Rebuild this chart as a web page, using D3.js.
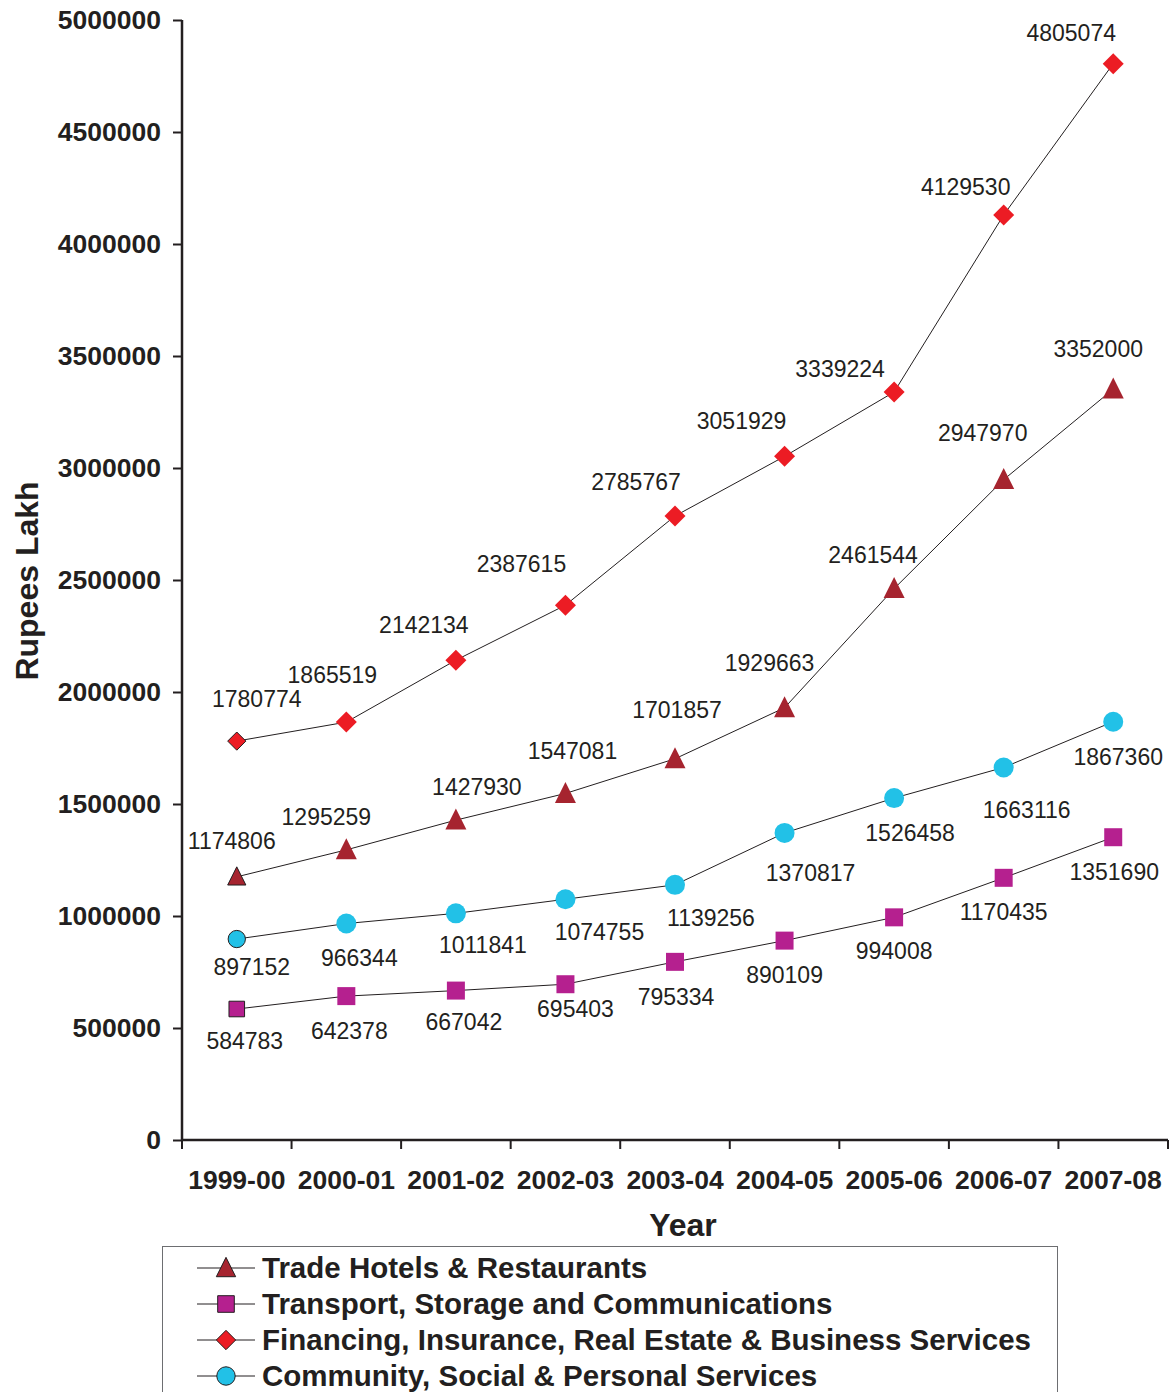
<!DOCTYPE html>
<html>
<head>
<meta charset="utf-8">
<script src="https://cdn.jsdelivr.net/npm/d3@7"></script>
<style>
  body { margin: 0; background: #fff; }
  text { font-family: "Liberation Sans", Arial, sans-serif; fill: #231f20; }
</style>
</head>
<body>
<svg id="chart"></svg>
<script>
var years = ["1999-00", "2000-01", "2001-02", "2002-03", "2003-04", "2004-05", "2005-06", "2006-07", "2007-08"];
var yTicks = [0, 500000, 1000000, 1500000, 2000000, 2500000, 3000000, 3500000, 4000000, 4500000, 5000000];

var trade = [1174806, 1295259, 1427930, 1547081, 1701857, 1929663, 2461544, 2947970, 3352000];
var transport = [584783, 642378, 667042, 695403, 795334, 890109, 994008, 1170435, 1351690];
var financing = [1780774, 1865519, 2142134, 2387615, 2785767, 3051929, 3339224, 4129530, 4805074];
var community = [897152, 966344, 1011841, 1074755, 1139256, 1370817, 1526458, 1663116, 1867360];

var seriesNames = ["Trade Hotels & Restaurants", "Transport, Storage and Communications",
    "Financing, Insurance, Real Estate & Business Services", "Community, Social & Personal Services"];

var W = 1173, H = 1392;
var margin = { top: 20, right: 5, bottom: 252, left: 182 },
    height = H - margin.top - margin.bottom;

var svg = d3.select("#chart").attr("width", W).attr("height", H);
var g = svg.append("g").attr("transform", "translate(" + margin.left + "," + margin.top + ")");

var x = d3.scaleBand().domain(years).range([0, 986]).padding(0);
var y = d3.scaleLinear().domain([0, 5000000]).range([height, 0]);

// custom marker shapes
var triangle = {
    draw: function (ctx, size) {
        var h = Math.sqrt(size), w = h;
        ctx.moveTo(0, -h * 0.55);
        ctx.lineTo(w / 2, h * 0.45);
        ctx.lineTo(-w / 2, h * 0.45);
        ctx.closePath();
    }
};
var diamond = {
    draw: function (ctx, size) {
        var r = Math.sqrt(size) / 2;
        ctx.moveTo(0, -r);
        ctx.lineTo(r, 0);
        ctx.lineTo(0, r);
        ctx.lineTo(-r, 0);
        ctx.closePath();
    }
};

// series styles; label offsets (dx, dy) per point as placed in the original
var series = [
    { name: seriesNames[0], values: trade, color: "#a6242f", shape: triangle, size: 441,
      ldx: [-5, -20, 21, 7, 2, -15, -21, -21, -15], ldy: [-36, -33, -33, -43, -49, -45, -34, -47, -40] },
    { name: seriesNames[1], values: transport, color: "#b5208f", shape: d3.symbolSquare, size: 324,
      ldx: [8, 3, 8, 10, 1, 0, 0, 0, 1], ldy: [32, 35, 31, 25, 35, 34, 34, 34, 35] },
    { name: seriesNames[2], values: financing, color: "#ec1c24", shape: diamond, size: 441,
      ldx: [20, -14, -32, -44, -39, -43, -54, -38, -42], ldy: [-42, -47, -35, -41, -34, -35, -23, -28, -31] },
    { name: seriesNames[3], values: community, color: "#22c1e7", shape: d3.symbolCircle, size: 314,
      ldx: [15, 13, 27, 34, 36, 26, 16, 23, 5], ldy: [28, 34, 32, 33, 33, 40, 35, 42, 35] }
];

// axes
var yAxis = g.append("g")
    .call(d3.axisLeft(y).tickValues(yTicks).tickSize(9).tickPadding(12).tickFormat(d3.format("d")));
var xAxis = g.append("g")
    .attr("transform", "translate(0," + height + ")")
    .call(d3.axisBottom(x).tickSize(0).tickPadding(30));
xAxis.selectAll(".tick")
    .append("line")
    .attr("x1", -x.bandwidth() / 2).attr("x2", -x.bandwidth() / 2)
    .attr("y1", 0).attr("y2", 9);
xAxis.append("line")
    .attr("x1", 986).attr("x2", 986).attr("y1", 0).attr("y2", 9);
[yAxis, xAxis].forEach(function (a) {
    a.select(".domain").attr("stroke", "#231f20").attr("stroke-width", 2.5);
    a.selectAll("line").attr("stroke", "#231f20").attr("stroke-width", 2);
    a.selectAll("text").attr("font-size", 26.5).attr("font-weight", "bold")
        .attr("font-family", "Liberation Sans, Arial, sans-serif").attr("fill", "#231f20");
});
yAxis.select(".domain").attr("d", "M0,0V" + height);
xAxis.select(".domain").attr("d", "M0,0H986");

// axis titles
svg.append("text")
    .attr("x", 683).attr("y", 1236)
    .attr("text-anchor", "middle")
    .attr("font-size", 32).attr("font-weight", "bold")
    .text("Year");
svg.append("text")
    .attr("transform", "translate(38,581) rotate(-90)")
    .attr("text-anchor", "middle")
    .attr("font-size", 32).attr("font-weight", "bold")
    .text("Rupees Lakh");

var line = d3.line()
    .x(function (d, i) { return x(years[i]) + x.bandwidth() / 2; })
    .y(function (d) { return y(d); });

series.forEach(function (s) {
    g.append("path")
        .datum(s.values)
        .attr("fill", "none")
        .attr("stroke", "#231f20")
        .attr("stroke-width", 1)
        .attr("d", line);
});

series.forEach(function (s) {
    g.selectAll(null)
        .data(s.values)
        .enter().append("path")
        .attr("transform", function (d, i) {
            return "translate(" + (x(years[i]) + x.bandwidth() / 2) + "," + y(d) + ")";
        })
        .attr("d", function (d, i) {
            return d3.symbol().type(s.shape).size(i === 0 ? s.size * 0.75 : s.size)();
        })
        .attr("fill", s.color)
        .attr("stroke", function (d, i) { return i === 0 ? "#231f20" : "none"; })
        .attr("stroke-width", 1);

    g.selectAll(null)
        .data(s.values)
        .enter().append("text")
        .attr("x", function (d, i) { return x(years[i]) + x.bandwidth() / 2 + s.ldx[i]; })
        .attr("y", function (d, i) { return y(d) + s.ldy[i]; })
        .attr("dy", "0.35em")
        .attr("text-anchor", "middle")
        .attr("font-size", 23)
        .text(function (d) { return d; });
});

// legend
var legend = svg.append("g").attr("transform", "translate(162,1246)");
legend.append("rect")
    .attr("x", 0.5).attr("y", 0.5)
    .attr("width", 895).attr("height", 160)
    .attr("fill", "none").attr("stroke", "#6d6e71").attr("stroke-width", 1);

var items = legend.selectAll(".item")
    .data(series)
    .enter().append("g")
    .attr("transform", function (d, i) { return "translate(0," + (22 + i * 36) + ")"; });
items.append("line")
    .attr("x1", 35).attr("x2", 93).attr("y1", 0).attr("y2", 0)
    .attr("stroke", "#231f20").attr("stroke-width", 1);
items.append("path")
    .attr("transform", "translate(64,0)")
    .attr("d", function (d) { return d3.symbol().type(d.shape).size(d.size * 0.85)(); })
    .attr("fill", function (d) { return d.color; })
    .attr("stroke", "#231f20").attr("stroke-width", 1);
items.append("text")
    .attr("x", 100).attr("dy", "0.35em")
    .attr("font-size", 29.5).attr("font-weight", "bold")
    .text(function (d) { return d.name; });
</script>
</body>
</html>
